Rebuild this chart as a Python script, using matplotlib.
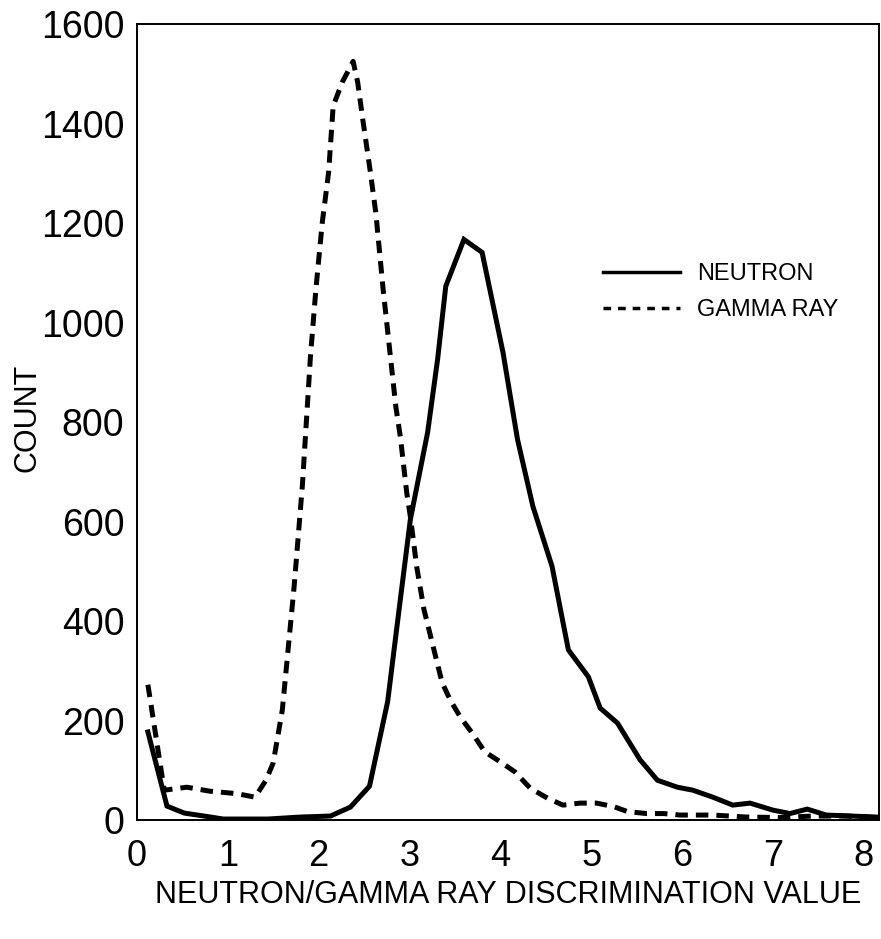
import matplotlib
matplotlib.use("Agg")
import matplotlib.pyplot as plt
from matplotlib.lines import Line2D

plt.rcParams['font.family'] = ['Liberation Sans', 'DejaVu Sans']

# Neutron series (solid)
neutron_x = [0.12, 0.33, 0.52, 0.81, 0.95, 1.44, 1.80, 2.13, 2.35, 2.56, 2.76, 2.87,
             3.01, 3.20, 3.31, 3.40, 3.60, 3.80, 4.03, 4.19, 4.36, 4.57, 4.75, 4.97,
             5.10, 5.29, 5.54, 5.73, 5.95, 6.12, 6.34, 6.56, 6.75, 7.00, 7.19, 7.38,
             7.59, 8.14]
neutron_y = [177, 28, 14, 6, 2, 2, 6, 8, 26, 68, 238, 400,
             604, 779, 926, 1073, 1167, 1141, 940, 765, 630, 510, 342, 288,
             225, 195, 121, 80, 66, 60, 46, 30, 34, 20, 13, 22,
             10, 6]

# Gamma ray series (dashed)
gamma_x = [0.12, 0.30, 0.55, 0.80, 1.10, 1.30, 1.42, 1.50, 1.60, 1.73, 1.82, 1.91,
           1.97, 2.04, 2.11, 2.16, 2.26, 2.38, 2.43, 2.49, 2.57, 2.63, 2.71, 2.77,
           2.85, 2.90, 2.97, 3.01, 3.08, 3.16, 3.27, 3.36, 3.45, 3.56, 3.69, 3.83,
           4.00, 4.16, 4.33, 4.52, 4.69, 4.88, 5.06, 5.25, 5.40, 5.61, 5.80, 5.98,
           6.34, 6.71, 7.08, 7.44, 7.81, 8.14]
gamma_y = [272, 60, 66, 58, 53, 46, 80, 115, 221, 469, 670, 932,
           1067, 1201, 1302, 1435, 1483, 1525, 1483, 1403, 1302, 1220, 1067, 966,
           831, 770, 658, 610, 509, 423, 342, 276, 241, 207, 175, 137,
           117, 97, 64, 44, 30, 34, 34, 27, 17, 13, 13, 10,
           10, 6, 5, 8, 8, 5]

x_ticks = [0, 1, 2, 3, 4, 5, 6, 7, 8]
y_ticks = [0, 200, 400, 600, 800, 1000, 1200, 1400, 1600]

fig = plt.figure(figsize=(8.81, 9.39), dpi=100)
ax = fig.add_axes([0.1555, 0.1267, 0.8422, 0.8477])

ax.plot(neutron_x, neutron_y, color='black', lw=3.6, solid_joinstyle='miter')
ax.plot(gamma_x, gamma_y, color='black', lw=3.6, linestyle=(0, (2.5, 1.6)))

ax.set_xlim(0, 8.17)
ax.set_ylim(0, 1600)
ax.set_xticks(x_ticks)
ax.set_yticks(y_ticks)
ax.tick_params(length=0, labelsize=26, pad=14)
ax.tick_params(axis='y', pad=9, labelsize=27)
for s in ax.spines.values():
    s.set_linewidth(1.4)

ax.set_xlabel('NEUTRON/GAMMA RAY DISCRIMINATION VALUE', fontsize=22, labelpad=4)
ax.set_ylabel('COUNT', fontsize=22)
ax.yaxis.set_label_coords(-0.128, 0.505)

handles = [Line2D([], [], color='black', lw=2.5),
           Line2D([], [], color='black', lw=2.5, linestyle=(0, (2.2, 2.0)))]
ax.legend(handles, ['NEUTRON', 'GAMMA RAY'], loc='upper left',
          bbox_to_anchor=(0.628, 0.700), frameon=False, fontsize=17,
          borderpad=0, borderaxespad=0,
          handlelength=3.26, handletextpad=0.72, labelspacing=0.62)

fig.savefig('out.png', dpi=100)
